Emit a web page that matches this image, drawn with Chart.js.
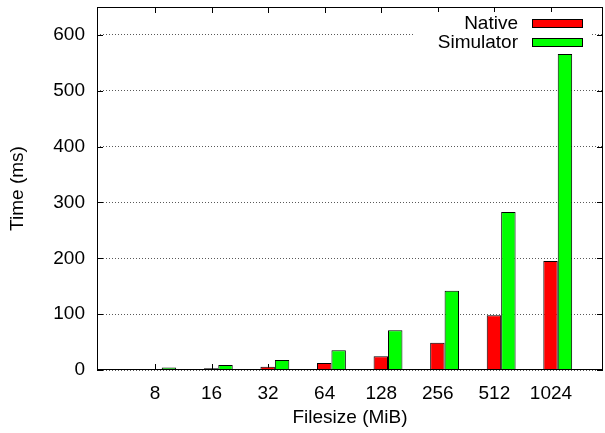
<!DOCTYPE html>
<html>
<head>
<meta charset="utf-8">
<script src="https://cdn.jsdelivr.net/npm/chart.js@4"></script>
<style>
    body { margin: 0; background: #fff; }
    #wrap { width: 605px; height: 433px; }
</style>
</head>
<body>
<div id="wrap"><canvas id="timeChart"></canvas></div>
<script>
    const FILESIZES = ['8', '16', '32', '64', '128', '256', '512', '1024']
    const NATIVE = [1.5, 3, 6, 12.5, 24.5, 49, 98, 195]
    const SIMULATOR = [4.5, 9, 18, 35.5, 71, 142, 283, 566]
    const Y_TICKS = [0, 100, 200, 300, 400, 500, 600]

    const FONT = { family: 'Liberation Sans', size: 19 }
    // gnuplot puts the tick a bit left of the cluster centre
    const tickShift = -0.12

    // 1px lines as filled rects
    const hLine = (ctx, x0, x1, y) => ctx.fillRect(Math.min(x0, x1), Math.round(y), Math.abs(x1 - x0), 1)
    const vLine = (ctx, x, y0, y1) => ctx.fillRect(Math.round(x), Math.min(y0, y1), 1, Math.abs(y1 - y0))

    // inward tick marks, under the bars
    const tickPlugin = {
        id: 'inwardTicks',
        beforeDatasetsDraw(chart) {
            const ctx = chart.ctx
            const a = chart.chartArea
            const xs = chart.scales.x, ys = chart.scales.y
            ctx.save()
            ctx.fillStyle = '#000'
            ys.ticks.forEach((tk) => {
                const y = ys.getPixelForValue(tk.value)
                hLine(ctx, a.left, a.left + 6, y)
                hLine(ctx, a.right - 6, a.right, y)
            })
            xs.ticks.forEach((tk) => {
                const x = xs.getPixelForValue(tk.value)
                vLine(ctx, x, a.bottom - 6, a.bottom)
                vLine(ctx, x, a.top, a.top + 6)
            })
            ctx.restore()
        }
    }

    // plot border and gnuplot style key
    const keyPlugin = {
        id: 'gnuKey',
        afterDraw(chart) {
            const ctx = chart.ctx
            const a = chart.chartArea
            ctx.save()
            ctx.fillStyle = '#000'
            hLine(ctx, a.left, a.right, a.top)
            hLine(ctx, a.left, a.right, a.bottom - 1)
            vLine(ctx, a.left, a.top, a.bottom)
            vLine(ctx, a.right - 1, a.top, a.bottom)

            const boxRight = a.right - 20
            ctx.fillStyle = '#fff'
            ctx.fillRect(boxRight - 168, a.top + 5, 177, 39)
            ctx.font = FONT.size + 'px ' + FONT.family
            ctx.textAlign = 'right'
            ctx.textBaseline = 'alphabetic'
            ctx.strokeStyle = '#000'
            ctx.lineWidth = 1
            chart.data.datasets.forEach((ds, i) => {
                const base = a.top + 22 + i * 19
                ctx.fillStyle = '#000'
                ctx.fillText(ds.label, boxRight - 65, base)
                ctx.fillStyle = ds.backgroundColor
                ctx.fillRect(boxRight - 51, base - 10, 51, 9)
                ctx.strokeRect(boxRight - 50.5, base - 9.5, 50, 8)
            })
            ctx.restore()
        }
    }

    const toPoints = (vals) => vals.map((v, i) => ({ x: i, y: v }))

    const chart = new Chart(document.getElementById('timeChart'), {
        type: 'bar',
        data: {
            datasets: [
                {
                    label: 'Native',
                    data: toPoints(NATIVE),
                    backgroundColor: '#ff0000',
                    borderColor: '#000',
                    borderWidth: 1
                },
                {
                    label: 'Simulator',
                    data: toPoints(SIMULATOR),
                    backgroundColor: '#00ff00',
                    borderColor: '#000',
                    borderWidth: 1
                }
            ]
        },
        plugins: [tickPlugin, keyPlugin],
        options: {
            responsive: true,
            maintainAspectRatio: false,
            devicePixelRatio: 1,
            animation: false,
            categoryPercentage: 0.51,
            barPercentage: 1,
            layout: { padding: { top: 7, right: 2, left: 0, bottom: 0 } },
            plugins: {
                legend: { display: false },
                tooltip: { enabled: false }
            },
            scales: {
                x: {
                    type: 'linear',
                    offset: false,
                    bounds: 'data',
                    min: -1.144,
                    max: 7.8,
                    afterBuildTicks: (scale) => {
                        scale.ticks = FILESIZES.map((c, i) => ({ value: i + tickShift }))
                    },
                    afterFit: (scale) => {
                        scale.height = 63
                        scale.paddingLeft = 0
                        scale.paddingRight = 0
                    },
                    grid: { display: false, offset: false },
                    border: { display: false },
                    ticks: {
                        autoSkip: false,
                        maxRotation: 0,
                        padding: 4,
                        color: '#000',
                        font: FONT,
                        callback: (v) => FILESIZES[Math.round(v - tickShift)]
                    },
                    title: {
                        display: true,
                        text: 'Filesize (MiB)',
                        color: '#000',
                        font: FONT,
                        padding: { top: 0, bottom: 4 }
                    }
                },
                y: {
                    min: 0,
                    max: 650,
                    afterBuildTicks: (scale) => {
                        scale.ticks = Y_TICKS.map((v) => ({ value: v }))
                    },
                    afterFit: (scale) => {
                        scale.width = 97
                        scale.paddingTop = 0
                        scale.paddingBottom = 0
                    },
                    border: { display: false, dash: [1, 2] },
                    grid: {
                        color: 'rgba(0,0,0,0.65)',
                        lineWidth: 1,
                        drawTicks: false
                    },
                    ticks: {
                        padding: 12,
                        color: '#000',
                        font: FONT
                    },
                    title: {
                        display: true,
                        text: 'Time (ms)',
                        color: '#000',
                        font: FONT,
                        padding: { top: 6, bottom: 0 }
                    }
                }
            }
        }
    });
</script>
</body>
</html>
